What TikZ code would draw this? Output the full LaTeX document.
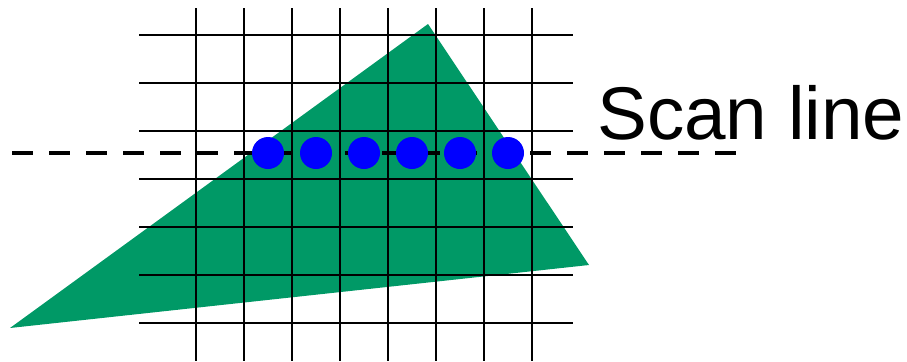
\documentclass[tikz,border=0pt]{standalone}
\usepackage{fontspec}
\setmainfont{Liberation Sans}
\usetikzlibrary{calc}
\definecolor{trigreen}{RGB}{0,153,102}
\definecolor{dotblue}{RGB}{0,0,255}

\begin{document}
\begin{tikzpicture}[x=0.75pt,y=-0.75pt,
    gridline/.style={line width=1.3pt},
    pixel/.style={circle,fill=dotblue,inner sep=0pt,minimum size=24pt}]
\useasboundingbox (0,0) rectangle (907,361);

% triangle
\fill[trigreen] (10,328) -- (428,24) -- (589,265) -- cycle;

% pixel grid
\foreach \x in {196,244,...,532}
{
    \draw[gridline] (\x,8) -- (\x,361);
}
\foreach \y in {35,83,...,323}
{
    \draw[gridline] (139,\y) -- (573,\y);
}

% scan line
\coordinate (sl-start) at (12,153);
\coordinate (sl-end) at (743,153);
\draw[line width=3pt,dash pattern=on 15.75pt off 12pt] (sl-start) -- (sl-end);

% pixels on the scan line
\foreach \i in {0,...,5}
{
    \node[pixel] (px\i) at (268+48*\i,153) {};
}

\node[anchor=base west,inner sep=0pt,font=\fontsize{56}{64}\selectfont] (label) at (597,139) {Scan line};

\end{tikzpicture}
\end{document}
